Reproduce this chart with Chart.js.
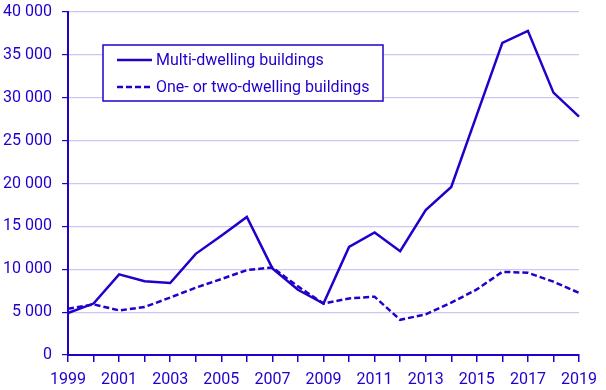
<!DOCTYPE html>
<html>
<head>
<meta charset="utf-8">
<script src="https://cdn.jsdelivr.net/npm/chart.js@4/dist/chart.umd.min.js"></script>
<style>
  html, body { margin: 0; padding: 0; background: #fff; }
  #wrap { width: 606px; height: 390px; position: relative; }
</style>
</head>
<body>
<div id="wrap"><canvas id="chart"></canvas></div>
<script>
const years = ['1999','2000','2001','2002','2003','2004','2005','2006','2007','2008','2009',
  '2010','2011','2012','2013','2014','2015','2016','2017','2018','2019'];
const multiDwelling = [4900, 6000, 9400, 8600, 8400, 11800, 13900, 16100, 10100, 7600, 6000,
  12600, 14300, 12100, 16900, 19600, 28000, 36400, 37800, 30600, 27800];
const oneTwoDwelling = [5400, 5900, 5200, 5600, 6700, 7850, 8850, 9900, 10200, 8000, 6000,
  6600, 6800, 4100, 4750, 6100, 7650, 9700, 9600, 8550, 7250];
const seriesNames = ['Multi-dwelling buildings', 'One- or two-dwelling buildings'];

const blue = '#2200cc';
const gridColor = '#cbc7f2';
const font = { family: 'Roboto', size: 16 };

const fmt = v => String(v).replace(/\B(?=(\d{3})+(?!\d))/g, ' ');

// legend with a framed box, drawn over the plot
const boxLegend = {
  id: 'boxLegend',
  afterDraw(chart) {
    const ctx = chart.ctx;
    const x = 103, y = 45, w = 280, h = 56;
    ctx.save();
    ctx.fillStyle = '#fff';
    ctx.fillRect(x, y, w, h);
    ctx.strokeStyle = blue;
    ctx.lineWidth = 1.5;
    ctx.strokeRect(x, y, w, h);
    ctx.font = '16px Roboto';
    ctx.textBaseline = 'middle';
    chart.data.datasets.forEach((ds, i) => {
      const cy = y + 15 + i * 27;
      ctx.beginPath();
      ctx.setLineDash(ds.borderDash || []);
      ctx.lineWidth = 2.5;
      ctx.moveTo(117, cy);
      ctx.lineTo(152, cy);
      ctx.stroke();
      ctx.setLineDash([]);
      ctx.fillStyle = blue;
      ctx.fillText(ds.label, 156, cy + 1);
    });
    ctx.restore();
  }
};

new Chart(document.getElementById('chart'), {
  type: 'line',
  data: {
    labels: years,
    datasets: [
      { label: seriesNames[0], data: multiDwelling, borderColor: blue, borderWidth: 2.5,
        pointRadius: 0, tension: 0, fill: false },
      { label: seriesNames[1], data: oneTwoDwelling, borderColor: blue, borderWidth: 2.5,
        borderDash: [6, 3], pointRadius: 0, tension: 0, fill: false }
    ]
  },
  options: {
    responsive: true,
    maintainAspectRatio: false,
    animation: false,
    layout: { padding: { top: 12, right: 27, left: 0, bottom: 0 } },
    plugins: { legend: { display: false }, tooltip: { enabled: false } },
    scales: {
      x: {
        offset: false,
        grid: { drawOnChartArea: false, tickColor: blue, tickLength: 7, lineWidth: 1.5 },
        border: { color: blue, width: 2 },
        ticks: {
          autoSkip: false, maxRotation: 0, color: blue, font, padding: 8,
          callback: (v, i) => (i % 2 === 0 ? years[i] : '')
        },
        afterFit: s => { s.height = 35; s.paddingLeft = 0; s.paddingRight = 0; }
      },
      y: {
        min: 0, max: 40000,
        grid: { color: gridColor, lineWidth: 1.2, tickColor: blue, tickLength: 6 },
        border: { color: blue, width: 2 },
        ticks: { stepSize: 5000, color: blue, font, padding: 10, callback: v => fmt(v) },
        afterFit: s => { s.width = 68; s.paddingTop = 0; s.paddingBottom = 0; }
      }
    }
  },
  plugins: [boxLegend]
});
</script>
</body>
</html>
